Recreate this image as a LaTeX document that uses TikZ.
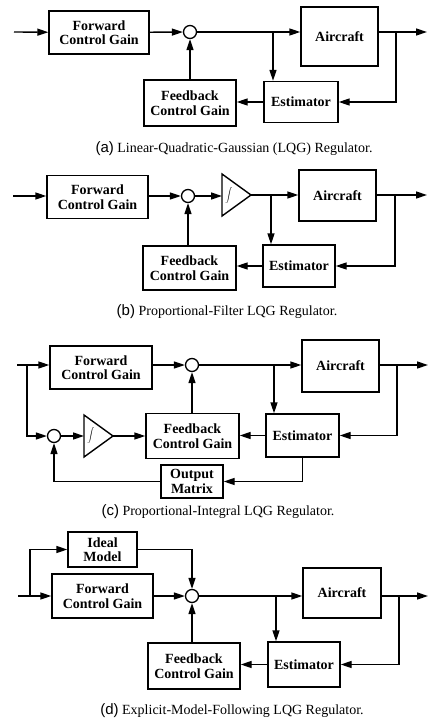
\documentclass[tikz,border=0pt]{standalone}
\usepackage{fontspec}
\setmainfont{Liberation Serif}
\newfontfamily\tagfont{Liberation Sans}
\usetikzlibrary{arrows.meta,calc}

\begin{document}
\begin{tikzpicture}[
    x=1pt, y=-1pt, line width=1.4pt,
    blk/.style={draw, line width=1.4pt, align=center, inner sep=0pt,
      font=\fontsize{14}{14.5}\selectfont\bfseries},
    sum/.style={circle, draw, line width=1.3pt, minimum size=13pt, inner sep=0pt},
    sig/.style={-{Triangle[length=11pt, width=7pt]}},
    captxt/.style={font=\fontsize{14}{16}\selectfont},
    integ/.style={inner sep=0pt},
  ]
  \useasboundingbox (0,0) rectangle (428,722);
  \def\tag#1{{\tagfont\fontsize{15}{15}\selectfont(#1)}}
  \def\integral{\scalebox{0.72}{$\displaystyle\int$}}

  % (a) LQG regulator
  \coordinate (inA) at (14,32);
  \node[blk, minimum width=100pt, minimum height=43pt] (fwdA) at (99,32.5) {Forward\\Control Gain};
  \node[sum] (sumA) at (190,32) {};
  \node[blk, minimum width=77pt, minimum height=59pt] (acA) at (339.5,36.5) {Aircraft};
  \node[blk, minimum width=74pt, minimum height=41pt] (estA) at (301,102) {Estimator};
  \node[blk, minimum width=92pt, minimum height=46pt] (fbA) at (190,103) {Feedback\\Control Gain};
  \coordinate (jA) at (273,32); \coordinate (oA) at (396,32); \coordinate (endA) at (427,32);
  \draw[sig] (inA) -- (fwdA);
  \draw[sig] (fwdA) -- (sumA);
  \draw[sig] (sumA) -- (acA.west |- sumA);
  \draw[sig] (jA) -- (jA |- estA.north);
  \draw[sig] (acA.east |- sumA) -- (endA);
  \draw[sig] (oA) |- (estA);
  \draw[sig] (estA) -- (fbA.east |- estA);
  \draw[sig] (fbA) -- (sumA);
  \node[captxt] (capA) at (234,149) {\tag{a} Linear-Quadratic-Gaussian (LQG) Regulator.};

  % (b) proportional-filter
  \coordinate (inB) at (13,196);
  \node[blk, minimum width=101pt, minimum height=43pt] (fwdB) at (97.5,197) {Forward\\Control Gain};
  \node[sum] (sumB) at (188,196) {};
  \draw (222,174) -- (222,216) -- (251,195) coordinate (intBout) -- cycle;
  \coordinate (intBin) at (222,196);
  \node[integ] (intB) at (229,195) {\integral};
  \node[blk, minimum width=77pt, minimum height=51pt] (acB) at (337.5,195.5) {Aircraft};
  \node[blk, minimum width=72pt, minimum height=42pt] (estB) at (299,266) {Estimator};
  \node[blk, minimum width=93pt, minimum height=44pt] (fbB) at (189.5,268) {Feedback\\Control Gain};
  \coordinate (jB) at (271,195); \coordinate (oB) at (395,195); \coordinate (endB) at (427,195);
  \draw[sig] (inB) -- (fwdB.west |- inB);
  \draw[sig] (fwdB.east |- inB) -- (sumB);
  \draw[sig] (sumB) -- (intBin);
  \draw[sig] (intBout) -- (acB.west |- intBout);
  \draw[sig] (jB) -- (jB |- estB.north);
  \draw[sig] (acB.east |- intBout) -- (endB);
  \draw[sig] (oB) |- (estB);
  \draw[sig] (estB) -- (fbB.east |- estB);
  \draw[sig] (fbB.north -| sumB) -- (sumB);
  \node[captxt] (capB) at (227,312) {\tag{b} Proportional-Filter LQG Regulator.};

  % (c) proportional-integral
  \coordinate (inC) at (17,365); \coordinate (jinC) at (27,365);
  \node[blk, minimum width=102pt, minimum height=43pt] (fwdC) at (101,367.5) {Forward\\Control Gain};
  \node[sum] (sumC) at (192,365) {};
  \node[blk, minimum width=77pt, minimum height=52pt] (acC) at (340.5,366) {Aircraft};
  \node[blk, minimum width=73pt, minimum height=43pt] (estC) at (302.5,435.5) {Estimator};
  \node[blk, minimum width=93pt, minimum height=45pt] (fbC) at (192.5,436) {Feedback\\Control Gain};
  \node[sum] (sum2C) at (54,436) {};
  \draw (84,415) -- (84,457) -- (113,436) coordinate (intCout) -- cycle;
  \coordinate (intCin) at (84,436);
  \node[integ] (intC) at (91,435) {\integral};
  \node[blk, minimum width=62pt, minimum height=33pt] (omC) at (192,481.5) {Output\\Matrix};
  \coordinate (jC) at (274,365); \coordinate (oC) at (397,365); \coordinate (endC) at (428,365);
  \draw[sig] (inC) -- (fwdC.west |- inC);
  \draw[sig] (fwdC.east |- inC) -- (sumC);
  \draw[sig] (sumC) -- (acC.west |- sumC);
  \draw[sig] (jC) -- (jC |- estC.north);
  \draw[sig] (acC.east |- sumC) -- (endC);
  \draw[sig] (oC) |- (estC);
  \draw[sig] (estC) -- (fbC.east |- estC);
  \draw[sig] (fbC.north -| sumC) -- (sumC);
  \draw[sig] (jinC) |- (sum2C);
  \draw[sig] (sum2C) -- (intCin);
  \draw[sig] (intCout) -- (fbC.west |- intCout);
  \draw[sig] (estC.south) |- (omC);
  \draw[sig] (omC) -| (sum2C);
  \node[captxt] (capC) at (218,512) {\tag{c} Proportional-Integral LQG Regulator.};

  % (d) explicit model following
  \coordinate (inD) at (18,596); \coordinate (jinD) at (30,596);
  \node[blk, minimum width=69pt, minimum height=35pt] (idD) at (102.5,549.5) {Ideal\\Model};
  \node[blk, minimum width=101pt, minimum height=44pt] (fwdD) at (102.5,596) {Forward\\Control Gain};
  \node[sum] (sumD) at (192,596) {};
  \node[blk, minimum width=78pt, minimum height=50pt] (acD) at (342,593) {Aircraft};
  \node[blk, minimum width=72pt, minimum height=45pt] (estD) at (304,664.5) {Estimator};
  \node[blk, minimum width=92pt, minimum height=46pt] (fbD) at (194,666) {Feedback\\Control Gain};
  \coordinate (jD) at (276,596); \coordinate (oD) at (399,596); \coordinate (endD) at (428,596);
  \draw[sig] (inD) -- (fwdD);
  \draw[sig] (jinD) |- (idD);
  \draw[sig] (idD) -| (sumD);
  \draw[sig] (fwdD) -- (sumD);
  \draw[sig] (sumD) -- (acD.west |- sumD);
  \draw[sig] (jD) -- (jD |- estD.north);
  \draw[sig] (acD.east |- sumD) -- (endD);
  \draw[sig] (oD) |- (estD);
  \draw[sig] (estD) -- (fbD.east |- estD);
  \draw[sig] (fbD.north -| sumD) -- (sumD);
  \node[captxt] (capD) at (232,711) {\tag{d} Explicit-Model-Following LQG Regulator.};
\end{tikzpicture}
\end{document}
